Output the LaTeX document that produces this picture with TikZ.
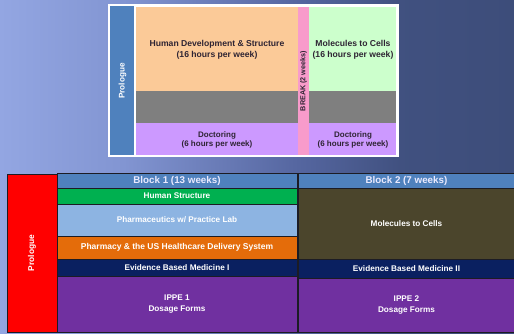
\documentclass[tikz,border=0pt]{standalone}
\usepackage{fontspec}
\setmainfont{Liberation Sans}
\usetikzlibrary{positioning}

% background and cell colours
\definecolor{bgA}{HTML}{93A6E2}
\definecolor{bgB}{HTML}{8295D2}
\definecolor{bgC}{HTML}{5566A0}
\definecolor{bgD}{HTML}{3D4D7A}
\definecolor{prologueblue}{HTML}{4F81BD}
\definecolor{peach}{HTML}{FBCA98}
\definecolor{midgray}{HTML}{7F7F7F}
\definecolor{lavender}{HTML}{CC99FF}
\definecolor{breakpink}{HTML}{F89BCB}
\definecolor{mint}{HTML}{CCFFCC}
\definecolor{darktext}{HTML}{2E2433}
\definecolor{hsgreen}{HTML}{00B050}
\definecolor{skyblue}{HTML}{8DB4E2}
\definecolor{burnt}{HTML}{E46C0A}
\definecolor{navy}{HTML}{0A2060}
\definecolor{grape}{HTML}{7030A0}
\definecolor{olive}{HTML}{4B452C}
\definecolor{edge}{HTML}{1C1C24}

\pgfdeclarehorizontalshading{slideback}{100bp}{%
  color(0bp)=(bgA); color(25bp)=(bgA); color(37bp)=(bgB);
  color(54bp)=(bgC); color(64bp)=(bgD!85!bgC); color(75bp)=(bgD); color(100bp)=(bgD)}

\tikzset{
  upper/.style={inner sep=0pt, outer sep=0pt, font=\bfseries\fontsize{8.6}{11}\selectfont,
    text=darktext, align=center},
  small/.style={upper, font=\bfseries\fontsize{8}{9}\selectfont},
  cell/.style={draw=edge, line width=0.8pt, inner sep=0pt, outer sep=0pt,
    text=white, align=center, font=\bfseries\fontsize{8.2}{11}\selectfont},
  header/.style={cell, font=\bfseries\fontsize{9.8}{11}\selectfont, text=white!92!blue},
}

\begin{document}
\begin{tikzpicture}[x=1pt,y=-1pt]
  % slide background
  \shade[shading=slideback] (0,0) rectangle (514,333);
  \useasboundingbox (0,0) rectangle (514,333);

  % ---------- upper schedule picture ----------
  \fill[white] (108,4) rectangle (399,157);
  \fill[prologueblue] (110,6) rectangle (134,155);
  \fill[peach] (136,7) rectangle (298,91);
  \fill[midgray] (136,91) rectangle (298,123);
  \fill[lavender] (136,123) rectangle (298,155);
  \fill[breakpink] (298,7) rectangle (309,155);
  \fill[mint] (309,7) rectangle (396,91);
  \fill[midgray] (309,91) rectangle (396,123);
  \fill[lavender] (309,123) rectangle (396,155);

  \node[upper, text=white, font=\bfseries\fontsize{8.2}{9}\selectfont, rotate=90] (p1) at (122.5,81) {Prologue};
  \node[upper] (hds) at (217,49.5) {Human Development \& Structure\\(16 hours per week)};
  \node[upper] (mtc) at (353,49.5) {Molecules to Cells\\(16 hours per week)};
  \node[small] (doc1) at (217,139.5) {Doctoring\\(6 hours per week)};
  \node[small] (doc2) at (353,139.5) {Doctoring\\(6 hours per week)};
  \node[upper, font=\bfseries\fontsize{7.2}{8}\selectfont, rotate=90] (brk) at (303.5,81) {BREAK (2 weeks)};

  % ---------- lower schedule table ----------
  \node[cell, fill=red, minimum width=50pt, minimum height=158pt] (prol) at (32,253) {};
  \node[text=white, font=\bfseries\fontsize{8.4}{9}\selectfont, rotate=90] (proltxt) at (32,253) {Prologue};

  \node[header, fill=prologueblue, minimum width=240pt, minimum height=15pt] (b1) at (177,180.5) {Block 1 (13 weeks)};
  \node[cell, fill=hsgreen, minimum width=240pt, minimum height=16pt] (hs) at (177,196) {Human Structure};
  \node[cell, fill=skyblue, minimum width=240pt, minimum height=32pt] (ph) at (177,220) {Pharmaceutics w/ Practice Lab};
  \node[cell, fill=burnt, minimum width=240pt, minimum height=23.5pt, font=\bfseries\fontsize{8.5}{11}\selectfont] (us) at (177,247.75) {Pharmacy \& the US Healthcare Delivery System};
  \node[cell, fill=navy, minimum width=240pt, minimum height=16.5pt] (ebm1) at (177,268) {Evidence Based Medicine I};
  \node[cell, fill=grape, minimum width=240pt, minimum height=55.5pt] (ippe1) at (177,304.25) {IPPE 1\\Dosage Forms};

  \node[header, fill=prologueblue, minimum width=217pt, minimum height=15pt] (b2) at (406.5,180.5) {Block 2 (7 weeks)};
  \node[cell, fill=olive, minimum width=217pt, minimum height=71pt] (mol) at (406.5,223.5) {Molecules to Cells};
  \node[cell, fill=navy, minimum width=217pt, minimum height=19pt] (ebm2) at (406.5,268.5) {Evidence Based Medicine II};
  \node[cell, fill=grape, minimum width=217pt, minimum height=54pt] (ippe2) at (406.5,305) {IPPE 2\\Dosage Forms};
\end{tikzpicture}
\end{document}
